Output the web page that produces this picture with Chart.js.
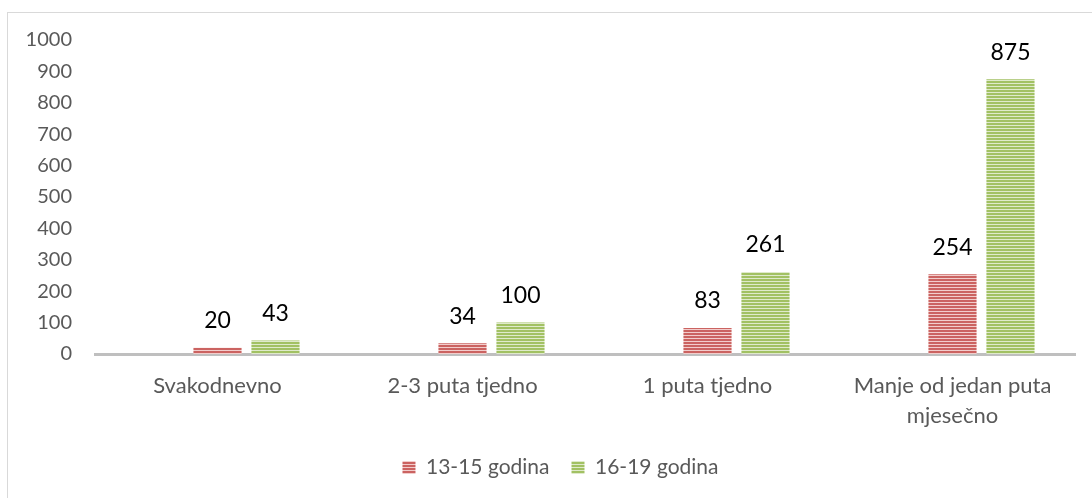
<!DOCTYPE html>
<html>
<head>
<meta charset="utf-8">
<script src="https://cdn.jsdelivr.net/npm/chart.js@4"></script>
<style>
  html, body { margin: 0; padding: 0; background: #fff; overflow: hidden; }
  #frame { position: absolute; left: 7px; top: 12px; width: 2000px; height: 2000px;
           border-left: 1px solid #d9d9d9; border-top: 1px solid #d9d9d9; }
  #wrap { position: absolute; left: 0; top: 0; width: 1092px; height: 498px; }
</style>
</head>
<body>
<div id="frame"></div>
<div id="wrap"><canvas id="chart" width="1092" height="498"></canvas></div>
<script>
// data
var categories = ["Svakodnevno", "2-3 puta tjedno", "1 puta tjedno", ["Manje od jedan puta", "mjesečno"]];
var seriesNames = ["13-15 godina", "16-19 godina"];
var age13to15 = [20, 34, 83, 254];
var age16to19 = [43, 100, 261, 875];
var emptyGroup = [null, null, null, null]; // empty first series in the original chart (keeps bars off-centre)
var yTicks = [0, 100, 200, 300, 400, 500, 600, 700, 800, 900, 1000];

function stripes(dark, light) {
	var c = document.createElement("canvas");
	c.width = 4; c.height = 3;
	var g = c.getContext("2d");
	g.fillStyle = dark; g.fillRect(0, 0, 4, 2);
	g.fillStyle = light; g.fillRect(0, 2, 4, 1);
	return g.createPattern(c, "repeat");
}
var ctx = document.getElementById("chart").getContext("2d");
var redFill = stripes("#cb6361", "#f2cdcc");
var greenFill = stripes("#a2c163", "#dfeacb");

var valueLabels = {
	id: "valueLabels",
	afterDatasetsDraw: function(chart) {
		var c = chart.ctx;
		c.save();
		c.font = "23px Lato";
		c.fillStyle = "#000";
		c.textAlign = "center";
		c.textBaseline = "middle";
		chart.data.datasets.forEach(function(ds, i) {
			chart.getDatasetMeta(i).data.forEach(function(bar, j) {
				if (ds.data[j] == null) return;
				c.fillText(ds.data[j], bar.x, bar.y - 27);
			});
		});
		c.restore();
	}
};

// legend sits a little right of the canvas centre in the original
var legendShift = {
	id: "legendShift",
	afterLayout: function(chart) {
		chart.legend.left += 23;
		chart.legend.right += 23;
	}
};

var chart = new Chart(ctx, {
	type: "bar",
	data: {
		labels: categories,
		datasets: [{
			label: "",
			data: emptyGroup,
			backgroundColor: "transparent"
		}, {
			label: seriesNames[0],
			data: age13to15,
			backgroundColor: redFill
		}, {
			label: seriesNames[1],
			data: age16to19,
			backgroundColor: greenFill
		}]
	},
	plugins: [valueLabels, legendShift],
	options: {
		responsive: false,
		animation: false,
		events: [],
		categoryPercentage: 0.71,
		barPercentage: 0.83,
		layout: {
			padding: { top: 40, right: 17, left: 0, bottom: 10 }
		},
		scales: {
			x: {
				grid: { display: false, drawTicks: false },
				border: { display: true, color: "#bfbfbf", width: 3 },
				ticks: {
					color: "#595959",
					font: { family: "Lato", size: 22, lineHeight: 1.36 },
					padding: 17,
					maxRotation: 0,
					autoSkip: false
				},
				afterFit: function(s) { s.height = 81; }
			},
			y: {
				min: 0,
				max: 1000,
				grid: { display: false, drawTicks: false },
				border: { display: false },
				afterBuildTicks: function(s) {
					s.ticks = yTicks.map(function(v) { return { value: v }; });
				},
				ticks: {
					color: "#595959",
					font: { family: "Lato", size: 20 },
					padding: 23,
					callback: function(v) { return String(v); }
				},
				afterFit: function(s) { s.width = 95; }
			}
		},
		plugins: {
			tooltip: { enabled: false },
			legend: {
				position: "bottom",
				labels: {
					color: "#595959",
					font: { family: "Lato", size: 21 },
					boxWidth: 13,
					boxHeight: 13,
					padding: 22,
					filter: function(item) { return item.text !== ""; }
				}
			}
		}
	}
});
</script>
</body>
</html>
